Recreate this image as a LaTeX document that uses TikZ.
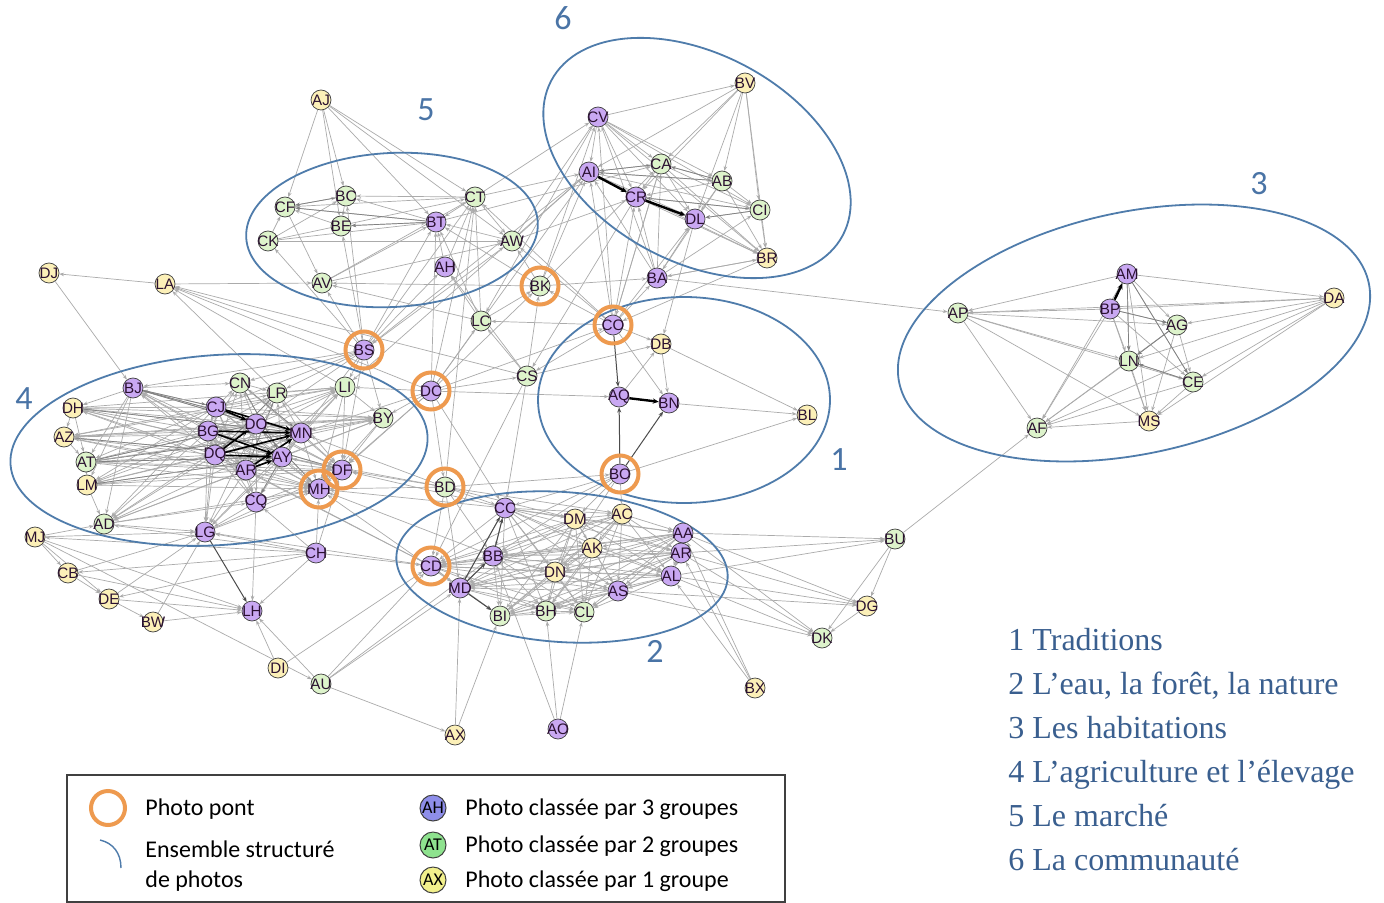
\documentclass[tikz,border=0pt]{standalone}
\usepackage{fontspec}
\setmainfont{Liberation Serif}
\newfontfamily\labfont{Liberation Sans}
\newfontfamily\carfont{Carlito}
\usetikzlibrary{arrows.meta}
\pgfdeclarelayer{background}
\pgfsetlayers{background,main}
\definecolor{pcol}{HTML}{C9A8F2}
\definecolor{gcol}{HTML}{DDF3CB}
\definecolor{ycol}{HTML}{FCF0B8}
\definecolor{ringc}{HTML}{EE9A4F}
\definecolor{ellc}{HTML}{4F7CAB}
\definecolor{edgec}{HTML}{ABABAB}
\definecolor{txtblue}{HTML}{3A5F8F}
\definecolor{numblue}{HTML}{4A74A6}
\definecolor{legp}{HTML}{8E8EEA}
\definecolor{legg}{HTML}{8EE28E}
\definecolor{legy}{HTML}{F2F08C}
\definecolor{labc}{HTML}{2A1030}
\newcommand\cgraph[1]{%
  \foreach \a [count=\i] in {#1} {%
    \foreach \b [count=\j] in {#1} {%
      \ifnum\j>\i \draw[ed] (\a) -- (\b);\fi
    }}}
\begin{document}
\begin{tikzpicture}[x=0.5pt,y=-0.5pt,
  nd/.style={circle, draw=black!75, line width=0.35pt, minimum size=10pt, inner sep=-4pt,
    font=\labfont\fontsize{7.6}{7.6}\selectfont, text=labc},
  pnode/.style={nd, fill=pcol},
  gnode/.style={nd, fill=gcol},
  ynode/.style={nd, fill=ycol},
  pontring/.style={circle, draw=ringc, line width=2pt, minimum size=18.5pt, inner sep=0pt},
  ed/.style={draw=edgec, line width=0.35pt, -{Stealth[length=2.4pt,width=1.8pt]}},
  edm/.style={draw=black!50, line width=0.35pt, -{Stealth[length=2.4pt,width=1.8pt]}},
  edk/.style={draw=black, line width=1.2pt, -{Stealth[length=3pt,width=2.6pt]}},
  edd/.style={draw=black!70, line width=0.5pt, -{Stealth[length=2.6pt,width=2pt]}},
  ell/.style={draw=ellc, line width=0.9pt},
  num/.style={font=\carfont\fontsize{17}{20}\selectfont, text=numblue},
  leg/.style={font=\carfont\fontsize{12}{14}\selectfont, anchor=base west, inner sep=0pt},
  legc/.style={circle, draw=black!75, line width=0.5pt, minimum size=13pt, inner sep=-3pt,
    font=\carfont\fontsize{9}{9}\selectfont},
  rleg/.style={font=\fontsize{16}{19}\selectfont, text=txtblue, anchor=base west, inner sep=0pt}
]
\useasboundingbox (0,0) rectangle (1384,903);
\begin{pgfonlayer}{background}
\fill[white] (0,0) rectangle (1384,903);
\end{pgfonlayer}

% ---------- cluster 5
\node[ynode] (nAJ) at (321,100) {AJ};
\node[gnode] (nCF) at (285,207) {CF};
\node[gnode] (nBC) at (346,196) {BC};
\node[gnode] (nBE) at (341,226) {BE};
\node[pnode] (nBT) at (436,222) {BT};
\node[gnode] (nCT) at (475,197) {CT};
\node[gnode] (nCK) at (268,241) {CK};
\node[gnode] (nAW) at (512,241) {AW};
\node[pnode] (nAH) at (445,267) {AH};
\node[gnode] (nAV) at (322,283) {AV};
% ---------- cluster 6
\node[pnode] (nCV) at (598,117) {CV};
\node[ynode] (nBV) at (745,83) {BV};
\node[pnode] (nAI) at (589,172) {AI};
\node[gnode] (nCA) at (661,164) {CA};
\node[gnode] (nAB) at (722,181) {AB};
\node[pnode] (nCR) at (636,197) {CR};
\node[gnode] (nCI) at (760,210) {CI};
\node[pnode] (nDL) at (695,219) {DL};
\node[ynode] (nBR) at (767,258) {BR};
\node[pnode] (nBA) at (657,278) {BA};
% ---------- cluster 3
\node[pnode] (nAM) at (1127,274) {AM};
\node[pnode] (nBP) at (1110,309) {BP};
\node[ynode] (nDA) at (1334,298) {DA};
\node[gnode] (nAP) at (958,313) {AP};
\node[gnode] (nAG) at (1177,325) {AG};
\node[gnode] (nLN) at (1129,361) {LN};
\node[gnode] (nCE) at (1193,382) {CE};
\node[ynode] (nMS) at (1149,421) {MS};
\node[gnode] (nAF) at (1037,428) {AF};
% ---------- cluster 1
\node[pnode] (nCO) at (613,325) {CO};
\node[ynode] (nDB) at (661,344) {DB};
\node[pnode] (nAQ) at (619,397) {AQ};
\node[pnode] (nBN) at (669,403) {BN};
\node[ynode] (nBL) at (807,415) {BL};
\node[pnode] (nBO) at (620,474) {BO};
% ---------- middle
\node[ynode] (nDJ) at (49,273) {DJ};
\node[ynode] (nLA) at (165,284) {LA};
\node[gnode] (nBK) at (540,286) {BK};
\node[gnode] (nLC) at (481,321) {LC};
\node[pnode] (nBS) at (364,350) {BS};
\node[gnode] (nCS) at (527,376) {CS};
\node[pnode] (nDC) at (431,391) {DC};
\node[gnode] (nBD) at (445,487) {BD};
% ---------- cluster 4
\node[pnode] (nBJ) at (133,388) {BJ};
\node[gnode] (nCN) at (240,383) {CN};
\node[gnode] (nLR) at (277,393) {LR};
\node[gnode] (nLI) at (345,387) {LI};
\node[gnode] (nBY) at (383,418) {BY};
\node[ynode] (nDH) at (73,408) {DH};
\node[ynode] (nAZ) at (64,437) {AZ};
\node[gnode] (nAT) at (86,462) {AT};
\node[ynode] (nLM) at (87,485) {LM};
\node[gnode] (nAD) at (104,524) {AD};
\node[pnode] (nCJ) at (216,407) {CJ};
\node[pnode] (nDO) at (256,424) {DO};
\node[pnode] (nBG) at (208,431) {BG};
\node[pnode] (nMN) at (301,433) {MN};
\node[pnode] (nDQ) at (215,455) {DQ};
\node[pnode] (nAY) at (282,457) {AY};
\node[pnode] (nARq) at (246,470) {AR};
\node[pnode] (nDF) at (342,470) {DF};
\node[pnode] (nMH) at (319,489) {MH};
\node[pnode] (nCQ) at (256,502) {CQ};
\node[pnode] (nLG) at (205,532) {LG};
% ---------- bottom left
\node[pnode] (nCH) at (316,553) {CH};
\node[ynode] (nMJ) at (35,537) {MJ};
\node[ynode] (nCB) at (68,573) {CB};
\node[ynode] (nDE) at (109,599) {DE};
\node[ynode] (nBW) at (153,622) {BW};
\node[pnode] (nLH) at (252,611) {LH};
\node[ynode] (nDI) at (278,668) {DI};
\node[gnode] (nAU) at (321,684) {AU};
% ---------- cluster 2
\node[pnode] (nCC) at (505,508) {CC};
\node[ynode] (nDM) at (575,519) {DM};
\node[ynode] (nAC) at (622,514) {AC};
\node[pnode] (nAA) at (683,533) {AA};
\node[pnode] (nARd) at (681,553) {AR};
\node[ynode] (nAK) at (592,548) {AK};
\node[pnode] (nBB) at (493,556) {BB};
\node[pnode] (nCD) at (431,566) {CD};
\node[ynode] (nDN) at (555,572) {DN};
\node[pnode] (nAL) at (671,576) {AL};
\node[pnode] (nAS) at (618,591) {AS};
\node[pnode] (nMD) at (460,588) {MD};
\node[gnode] (nBI) at (500,616) {BI};
\node[gnode] (nBH) at (546,611) {BH};
\node[gnode] (nCL) at (584,612) {CL};
% ---------- right bottom
\node[gnode] (nBU) at (895,539) {BU};
\node[ynode] (nDG) at (867,606) {DG};
\node[gnode] (nDK) at (822,638) {DK};
\node[ynode] (nBX) at (755,688) {BX};
\node[ynode] (nAX) at (455,735) {AX};
\node[pnode] (nAO) at (558,729) {AO};

% ---------- bridge rings
\foreach \r in {BS,DC,BD,BK,CO,BO,DF,MH,CD}
  \node[pontring] (ring\r) at (n\r) {};

% ---------- edges
\begin{pgfonlayer}{background}
% cluster 5
\foreach \a/\b in {AJ/CF,AJ/BC,AJ/BE,AJ/BT,AJ/CT,AJ/AW,CF/BC,BE/CF,BT/CF,BT/BC,BT/BE,CT/BC,CT/CF,
  CT/BT,CK/BT,CK/AW,CK/CT,CK/BC,CK/CF,BS/CK,AV/BT,AV/CT,AV/AW,CT/AW,AH/CT,AH/BT,LC/AH,LC/CT,
  LC/BT,AW/BT,CF/AV,BC/BE}
  \draw[ed] (n\a) -- (n\b);
\foreach \a/\b in {BT/CF,BT/BE,BC/CF}
  \draw[edm] (n\a) -- (n\b);
% cluster 6
\cgraph{nCV,nBV,nAI,nCA,nAB,nCR,nCI,nDL,nBR}
\foreach \a/\b in {BA/AI,BA/CR,BA/DL,BA/CA,BA/CV,BA/BR,BA/CI}
  \draw[ed] (n\a) -- (n\b);
\foreach \a/\b in {CA/AI,AB/AI,CI/CR,CI/DL,AB/CA}
  \draw[edm] (n\a) -- (n\b);
% cluster 3
\cgraph{nAM,nBP,nDA,nAP,nAG,nLN,nCE,nMS,nAF}
\foreach \a/\b in {AM/LN,AG/LN,CE/LN,AM/CE,BP/AG}
  \draw[edm] (n\a) -- (n\b);
% cluster 1
\foreach \a/\b in {CO/BN,CO/DB,DB/BN,DB/BL,BO/BL,BN/BL,AQ/DB}
  \draw[ed] (n\a) -- (n\b);
\foreach \a/\b in {CO/AQ,BO/AQ,BO/BN}
  \draw[edd] (n\a) -- (n\b);
% cluster 2
\cgraph{nCC,nDM,nAC,nAA,nARd,nAK,nBB,nCD,nDN,nAL,nAS,nMD,nBI,nBH,nCL}
% cluster 4
\cgraph{nCJ,nDO,nBG,nMN,nDQ,nAY,nARq}
\foreach \a in {CJ,DO,BG,MN,DQ,AY,ARq}
  \foreach \b in {BJ,CN,LR,LI,BY,DH,AZ,AT,LM,AD,DF,MH,CQ,LG}
    \draw[ed] (n\a) -- (n\b);
\foreach \a/\b in {BJ/CJ,BJ/DO,BJ/MN,AT/MN,AT/AY,LM/AY,AT/DO,DH/MN,AZ/AY,CN/MN,LR/DQ,MH/DO,
  DF/BG,AY/CQ,LR/ARq,CN/AY}
  \draw[edm] (n\a) -- (n\b);
\foreach \a/\b in {BJ/AT,BJ/LM,BJ/AD,BJ/DH,DH/AZ,AZ/AT,AT/LM,LM/AD,DH/AT,BJ/CN,CN/LR,LR/LI,
  LI/BY,BY/DF,BY/MH,LR/DF,CN/DF,AT/DF,AT/MH,LM/DF,LM/MH,AD/MH,AD/CQ,LG/MH,LG/DF,CQ/LG,CQ/MH,
  CQ/DF,DH/DF,AZ/MH,BJ/MH,LI/DF,LI/MH,AD/LG,DH/BY,AZ/BY,AT/BY,DH/LI,AZ/LI}
  \draw[ed] (n\a) -- (n\b);
% cross links
\foreach \a/\b in {LA/DJ,DJ/BJ,LA/AV,BK/AV,BS/LA,DC/LA,LI/LA,CS/LA,LR/LA,
  BS/AV,BS/BC,BS/BT,BS/CT,BS/AW,BS/LI,BS/LR,BS/CN,BS/BJ,BS/MN,BS/DO,BS/BY,BS/CJ,BS/DF,BS/BE,BS/AH,
  DC/LI,DC/BY,DC/AQ,DC/CS,DC/LC,DC/BK,DC/BT,DC/BD,DC/MN,DC/DF,DC/CO,DC/MH,DC/AI,DC/CT,
  BD/CC,BD/MD,BD/BB,BD/CD,BD/MH,BD/DF,BD/AY,BD/BO,BD/DM,BD/AC,BD/CT,BD/MN,
  BO/CC,BO/DM,BO/AC,BO/CD,BO/BB,BO/DN,
  CO/BK,CO/BA,CO/LC,CO/CS,CO/CT,CO/AW,CO/AI,CO/CR,CO/DL,CO/CV,CO/CA,
  CS/LC,CS/BK,CS/AH,CS/CD,CS/DB,CS/CC,LC/AV,LC/BK,
  BK/AI,BK/CV,BK/BA,BK/AW,BK/BT,BK/CA,BA/AP,
  AW/AI,AW/CV,CT/CV,CT/AI,AW/CR,BT/CA,
  CH/MH,CH/LH,CH/MJ,CH/CB,CH/DE,CH/LG,CH/CQ,CH/DF,CH/CD,CH/AD,
  MJ/CB,MJ/DE,MJ/LH,MJ/LG,MJ/AU,MJ/AD,CB/DE,CB/LH,CB/LG,DE/BW,DE/LH,DE/LG,BW/LH,BW/LG,
  CQ/LH,DI/LH,DI/CD,AU/CD,AU/AX,AU/MD,AU/BB,AU/LH,
  AA/BU,ARd/BU,AL/BU,AA/DK,ARd/DK,AL/DK,AS/DK,AS/DG,AL/DG,ARd/DG,AA/DG,BX/AL,BX/ARd,BX/AA,
  BU/DG,BU/DK,DG/DK,BU/AF,
  AO/BH,AO/CL,AO/BB,AX/MD,AX/BI,
  AI/BS,AI/LI,CV/LC,CR/CS,CA/CO,DL/DB,BR/BA,BR/CO,AB/BA,
  CC/MH,BB/MH,MD/MH,DC/CC,CD/DQ,CD/ARq,CD/LG,CC/DF}
  \draw[ed] (n\a) -- (n\b);
% darker / thick links
\foreach \a/\b in {MD/CC,MD/BB,MD/BI,BB/CC,LG/LH}
  \draw[edd] (n\a) -- (n\b);
\foreach \a/\b in {AI/CR,CR/DL,AQ/BN,BP/AM}
  \draw[edk] (n\a) -- (n\b);
\foreach \a/\b in {CJ/MN,CJ/DO,BG/MN,DQ/AY,DQ/MN,ARq/MN,ARq/AY,BG/AY,DQ/DO}
  \draw[edk, line width=0.8pt] (n\a) -- (n\b);
% structured sets
\draw[ell, rotate around={3:(392,230)}] (392,230) ellipse [x radius=73pt, y radius=38.5pt];
\draw[ell, rotate around={-28:(697,158)}] (697,158) ellipse [x radius=82.5pt, y radius=52pt];
\draw[ell, rotate around={12:(1134,333)}] (1134,333) ellipse [x radius=120pt, y radius=60.5pt];
\draw[ell] (684,400) ellipse [x radius=73pt, y radius=51.5pt];
\draw[ell, rotate around={4:(219,450)}] (219,450) ellipse [x radius=104.5pt, y radius=47.5pt];
\draw[ell, rotate around={-4:(562,567)}] (562,567) ellipse [x radius=83pt, y radius=37.5pt];
\end{pgfonlayer}

% ---------- cluster numbers
\node[num] (num1) at (839,460) {1};
\node[num] (num2) at (655,651) {2};
\node[num] (num3) at (1259,184) {3};
\node[num] (num4) at (24,399) {4};
\node[num] (num5) at (426,110) {5};
\node[num] (num6) at (563,18) {6};

% ---------- right legend
\node[rleg] (r1) at (1008,650) {1 Traditions};
\node[rleg] (r2) at (1008,694) {2 L’eau, la forêt, la nature};
\node[rleg] (r3) at (1008,738) {3 Les habitations};
\node[rleg] (r4) at (1008,782) {4 L’agriculture et l’élevage};
\node[rleg] (r5) at (1008,826) {5 Le marché};
\node[rleg] (r6) at (1008,870) {6 La communauté};

% ---------- bottom legend
\draw[draw=black!75, line width=0.8pt] (67,775) rectangle (785,902);
\node[pontring, minimum size=17pt] (legring) at (108,808) {};
\node[leg] (lt1) at (145,815) {Photo pont};
\draw[draw=ellc, line width=0.7pt] (100,840) .. controls (113,843) and (121,853) .. (121,868);
\node[leg] (lt2) at (145,857) {Ensemble structuré};
\node[leg] (lt3) at (145,887) {de photos};
\node[legc, fill=legp] (legah) at (433,808) {AH};
\node[legc, fill=legg] (legat) at (433,845) {AT};
\node[legc, fill=legy] (legax) at (433,880) {AX};
\node[leg] (lt4) at (465,815) {Photo classée par 3 groupes};
\node[leg] (lt5) at (465,852) {Photo classée par 2 groupes};
\node[leg] (lt6) at (465,887) {Photo classée par 1 groupe};
\end{tikzpicture}
\end{document}
